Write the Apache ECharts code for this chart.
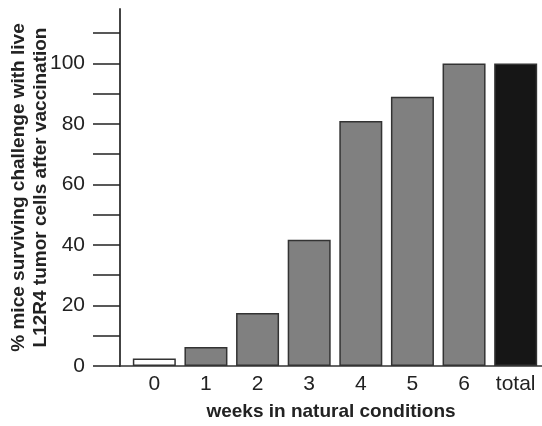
<!DOCTYPE html>
<html lang="en">
<head>
	<meta charset="UTF-8">
	<title>weeks in natural conditions</title>
	<script type="text/javascript" src="https://cdn.jsdelivr.net/npm/echarts@6/dist/echarts.min.js"></script>
	<style>
		html, body, #content {
			width: 100%;
			height: 100%;
			margin: 0;
			background: #fff;
		}
	</style>
</head>
<body>
	<div id="content"></div>
	<script>
		// categories and values
		var categories = ['0', '1', '2', '3', '4', '5', '6', 'total'];
		var survival = [2.5, 6.3, 17.5, 41.7, 81, 89, 100, 100];
		var barColors = ['#ffffff', '#808080', '#808080', '#808080', '#808080', '#808080', '#808080', '#161616'];
		var yTicks = [0, 10, 20, 30, 40, 50, 60, 70, 80, 90, 100, 110];
		var yLabels = [0, 20, 40, 60, 80, 100];

		var chart = echarts.init(document.getElementById('content'));

		var barData = survival.map(function (v, i) {
			return {
				value: [i, v],
				itemStyle: { color: barColors[i] }
			};
		});

		chart.setOption({
			animation: false,
			textStyle: { fontFamily: 'Liberation Sans, Arial, sans-serif' },
			grid: { left: 118, right: 0, top: 9, bottom: 57 },
			xAxis: {
				type: 'value',
				min: -0.665,
				max: 7.51,
				splitLine: { show: false },
				axisTick: { show: false },
				axisLine: { show: true, onZero: false, lineStyle: { color: '#333', width: 1.5 } },
				axisLabel: {
					customValues: [0, 1, 2, 3, 4, 5, 6, 7],
					formatter: function (v) { return categories[Math.round(v)]; },
					color: '#222',
					fontSize: 21,
					margin: 8
				},
				name: 'weeks in natural conditions',
				nameLocation: 'middle',
				nameGap: 36,
				nameMoveOverlap: false,
				nameTextStyle: { color: '#222', fontSize: 19, fontWeight: 'bold' }
			},
			yAxis: {
				type: 'value',
				min: 0,
				max: 118,
				splitLine: { show: false },
				axisLine: { show: true, onZero: false, lineStyle: { color: '#444', width: 2 } },
				axisTick: {
					customValues: yTicks,
					length: 27,
					lineStyle: { color: '#222', width: 1.5 }
				},
				axisLabel: {
					customValues: yLabels,
					color: '#222',
					fontSize: 21,
					margin: 35
				},
				name: '% mice surviving challenge with live\nL12R4 tumor cells after vaccination',
				nameLocation: 'middle',
				nameRotate: 90,
				nameGap: 90,
				nameMoveOverlap: false,
				nameTextStyle: {
					color: '#222',
					fontSize: 19,
					fontWeight: 'bold',
					lineHeight: 22,
					align: 'center',
					verticalAlign: 'middle'
				}
			},
			series: [{
				type: 'bar',
				barWidth: 43,
				data: barData,
				itemStyle: { borderColor: '#333', borderWidth: 1.5 }
			}]
		});

		window.onresize = chart.resize;
	</script>
</body>
</html>
